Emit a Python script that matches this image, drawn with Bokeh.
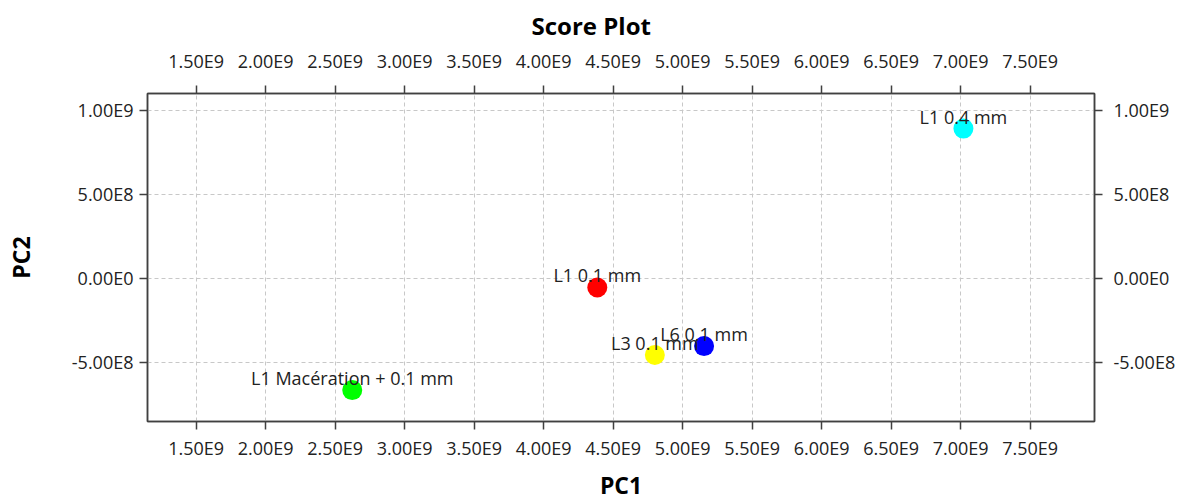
from bokeh.plotting import figure
from bokeh.models import LinearAxis, FixedTicker, CustomJSTickFormatter, Range1d, ColumnDataSource
from bokeh.core.properties import value
from bokeh.embed import file_html
from bokeh.resources import INLINE

# ---- data ----
samples = ["L1 0.4 mm", "L1 0.1 mm", "L3 0.1 mm", "L6 0.1 mm", "L1 Macération + 0.1 mm"]
pc1 = [7.02e9, 4.386e9, 4.80e9, 5.154e9, 2.623e9]
pc2 = [0.890e9, -0.056e9, -0.458e9, -0.405e9, -0.667e9]
colors = ["#00ffff", "#ff0000", "#ffff00", "#0000ff", "#00ff00"]
x_ticks = [1.5e9, 2.0e9, 2.5e9, 3.0e9, 3.5e9, 4.0e9, 4.5e9, 5.0e9, 5.5e9, 6.0e9, 6.5e9, 7.0e9, 7.5e9]
y_ticks = [-5.0e8, 0.0, 5.0e8, 1.0e9]

FONT = "Open Sans"
TICK_SIZE = "18px"
AX_COLOR = "#404040"

src = ColumnDataSource(dict(x=pc1, y=pc2, label=samples, color=colors))

p = figure(
    frame_width=947, frame_height=328,
    x_range=Range1d(1.15e9, 7.963e9), y_range=Range1d(-0.854e9, 1.099e9),
    min_border_left=147, min_border_right=86, min_border_top=93, min_border_bottom=79,
    toolbar_location=None, output_backend="svg",
    x_axis_label="PC1", y_axis_label="PC2",
    background_fill_color="white", border_fill_color="white",
)
p.outline_line_color = AX_COLOR
p.outline_line_width = 1.5

p.title.text = "Score Plot"
p.title.align = "left"
p.title.offset = 384
p.title.text_font = FONT
p.title.text_font_size = "24px"
p.title.text_font_style = "bold"
p.title.text_color = "#000000"
p.title.standoff = 8

fmt = CustomJSTickFormatter(code="""
return tick.toExponential(2).toUpperCase().replace("+", "");
""")

def style_axis(ax, ticks, standoff):
    ax.ticker = FixedTicker(ticks=ticks)
    ax.formatter = fmt
    ax.major_tick_out = 8
    ax.major_tick_in = 0
    ax.minor_tick_out = 0
    ax.minor_tick_in = 0
    ax.major_tick_line_color = AX_COLOR
    ax.major_tick_line_width = 1.5
    ax.axis_line_color = AX_COLOR
    ax.axis_line_width = 1.5
    ax.major_label_text_font = FONT
    ax.major_label_text_font_size = TICK_SIZE
    ax.major_label_text_color = "#222222"
    ax.major_label_standoff = standoff
    ax.axis_label_text_font = FONT
    ax.axis_label_text_font_size = "23px"
    ax.axis_label_text_font_style = "bold"
    ax.axis_label_text_color = "#000000"

xb = p.xaxis[0]
style_axis(xb, x_ticks, 6)
xb.axis_label_standoff = 6
yl = p.yaxis[0]
style_axis(yl, y_ticks, 6)
yl.axis_label_standoff = 32

xt = LinearAxis()
style_axis(xt, x_ticks, 13)
p.add_layout(xt, "above")
yr = LinearAxis()
style_axis(yr, y_ticks, 11)
p.add_layout(yr, "right")

for g, t in ((p.xgrid[0], x_ticks), (p.ygrid[0], y_ticks)):
    g.ticker = FixedTicker(ticks=t)
    g.grid_line_color = "#c8c8c8"
    g.grid_line_dash = "4 3"
    g.grid_line_width = 1

p.scatter(x="x", y="y", source=src, size=20, fill_color="color", line_color=None)
p.text(x="x", y="y", text="label", source=src,
       text_align="center", text_baseline="alphabetic", y_offset=-12,
       text_font=value(FONT), text_font_size=TICK_SIZE, text_color="#222222")

open("out.html", "w").write(file_html(p, INLINE))
